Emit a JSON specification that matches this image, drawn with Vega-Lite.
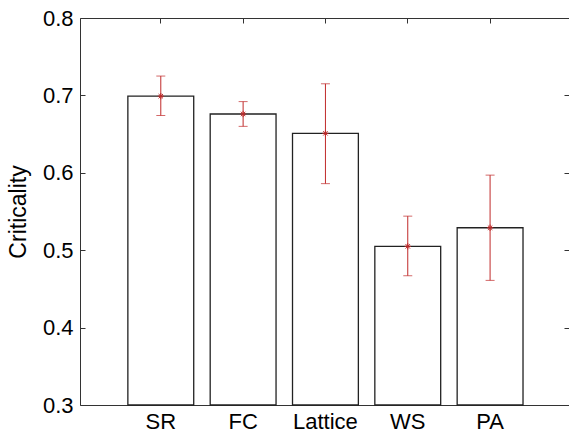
{
  "$schema": "https://vega.github.io/schema/vega-lite/v6.json",
  "autosize": "none",
  "width": 489,
  "height": 387,
  "padding": {"left": 80, "top": 18, "right": 0, "bottom": 29},
  "background": "white",
  "config": {
    "view": {"stroke": null},
    "axis": {
      "labelFont": "Liberation Sans",
      "labelFontSize": 22,
      "labelColor": "#000000",
      "titleFont": "Liberation Sans",
      "titleFontSize": 23,
      "titleFontWeight": "normal",
      "titleColor": "#000000",
      "domainColor": "#333333",
      "tickColor": "#333333",
      "grid": false
    }
  },
  "data": {
    "values": [
      {"name": "SR", "mean": 0.699, "lo": 0.674, "hi": 0.725},
      {"name": "FC", "mean": 0.676, "lo": 0.660, "hi": 0.692},
      {"name": "Lattice", "mean": 0.651, "lo": 0.586, "hi": 0.715},
      {"name": "WS", "mean": 0.505, "lo": 0.467, "hi": 0.544},
      {"name": "PA", "mean": 0.529, "lo": 0.461, "hi": 0.597}
    ]
  },
  "resolve": {"axis": {"x": "independent", "y": "independent"}},
  "layer": [
    {
      "mark": {"type": "bar", "fill": "white", "stroke": "#222222", "strokeWidth": 1.3},
      "encoding": {
        "x": {
          "field": "name", "type": "nominal", "sort": null,
          "scale": {"paddingInner": 0.2, "paddingOuter": 0.57, "align": 0.51},
          "axis": {"orient": "bottom", "title": null, "labelAngle": 0, "tickSize": -5, "labelPadding": 11}
        },
        "y": {
          "field": "mean", "type": "quantitative",
          "scale": {"domain": [0.3, 0.8], "nice": false, "zero": false},
          "axis": {"orient": "left", "values": [0.3, 0.4, 0.5, 0.6, 0.7, 0.8], "format": ".1f", "tickSize": -5, "labelPadding": 12, "title": "Criticality", "titlePadding": 12}
        },
        "y2": {"datum": 0.3}
      }
    },
    {
      "mark": {"type": "rule", "color": "#c02a2a", "strokeWidth": 1},
      "encoding": {
        "x": {"field": "name", "type": "nominal", "sort": null,
          "axis": {"orient": "top", "title": null, "labels": false, "tickSize": -5}},
        "y": {"field": "lo", "type": "quantitative",
          "axis": {"orient": "right", "title": null, "labels": false, "domain": false, "values": [0.3, 0.4, 0.5, 0.6, 0.7, 0.8], "tickSize": -5}},
        "y2": {"field": "hi"}
      }
    },
    {
      "mark": {"type": "tick", "color": "#c02a2a", "size": 9, "thickness": 1},
      "encoding": {
        "x": {"field": "name", "type": "nominal", "sort": null, "axis": null},
        "y": {"field": "lo", "type": "quantitative", "axis": null}
      }
    },
    {
      "mark": {"type": "tick", "color": "#c02a2a", "size": 9, "thickness": 1},
      "encoding": {
        "x": {"field": "name", "type": "nominal", "sort": null, "axis": null},
        "y": {"field": "hi", "type": "quantitative", "axis": null}
      }
    },
    {
      "mark": {"type": "point", "shape": "M-1,0L1,0M0,-1L0,1M-0.7,-0.7L0.7,0.7M-0.7,0.7L0.7,-0.7", "filled": false, "stroke": "#c02a2a", "strokeWidth": 1, "size": 40, "opacity": 1},
      "encoding": {
        "x": {"field": "name", "type": "nominal", "sort": null, "axis": null},
        "y": {"field": "mean", "type": "quantitative", "axis": null}
      }
    }
  ]
}
